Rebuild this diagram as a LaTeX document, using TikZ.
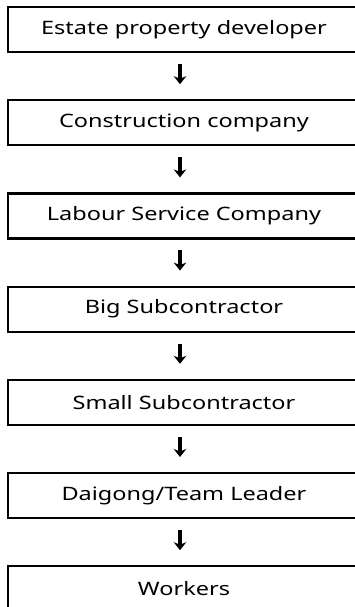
\documentclass[tikz,border=0pt]{standalone}
\usepackage{fontspec}
\setmainfont{Noto Sans}[FakeStretch=1.27]
\usetikzlibrary{arrows.meta}
\begin{document}
\begin{tikzpicture}[x=1pt,y=-1pt,
  box/.style={draw=none,minimum width=352pt,minimum height=45pt,outer sep=0pt,
    inner sep=0pt,font=\fontsize{18.5}{22}\selectfont},
  boxline/.style={line width=2.2pt,line cap=butt},
  conn/.style={line width=3.4pt,-{Stealth[length=8pt,width=12.5pt,inset=2.5pt]},shorten <=12pt,shorten >=16pt}]
\useasboundingbox (0,0) rectangle (355,607);
\clip (0,0) rectangle (355,607);
\node[box] (b1) at (184,29.5) {Estate property developer};
\node[box] (b2) at (184,122.7) {Construction company};
\node[box] (b3) at (184,215.9) {Labour Service Company};
\node[box] (b4) at (184,309.1) {Big Subcontractor};
\node[box] (b5) at (184,402.3) {Small Subcontractor};
\node[box] (b6) at (184,495.5) {Daigong/Team Leader};
\node[box] (b7) at (184,588.7) {Workers};
\foreach \n in {b1,b2,b3,b4,b5,b6}
  \draw[boxline] (\n.north west -| 360,0) -- (\n.north west) -- (\n.south west) -- (\n.south west -| 360,0);
\draw[boxline] (b7.north west -| 360,0) -- (b7.north west) -- (b7.west |- 0,610);
\foreach \a/\b in {b1/b2,b2/b3,b3/b4,b4/b5,b5/b6,b6/b7}
  \draw[conn] ([xshift=-4pt]\a.south) -- ([xshift=-4pt]\b.north);
\end{tikzpicture}
\end{document}
